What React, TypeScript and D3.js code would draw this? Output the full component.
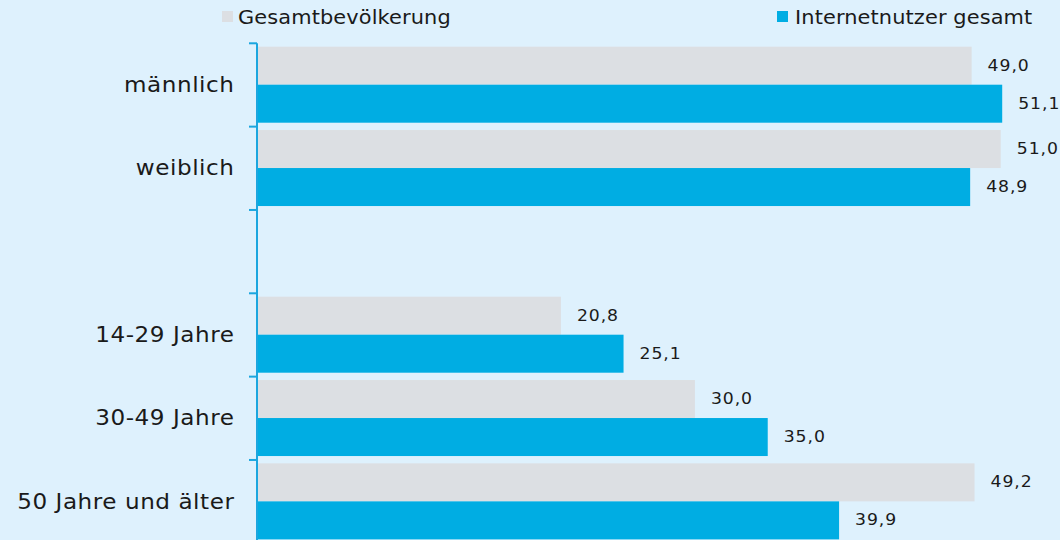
import React from "react";
import * as d3 from "d3";

const categories = ["männlich", "weiblich", "", "14-29 Jahre", "30-49 Jahre", "50 Jahre und älter"];
const gesamtbevoelkerung = [49.0, 51.0, null, 20.8, 30.0, 49.2];
const internetnutzer = [51.1, 48.9, null, 25.1, 35.0, 39.9];
const seriesNames = ["Gesamtbevölkerung", "Internetnutzer gesamt"];
const seriesColors = ["#dcdfe3", "#00ade3"];

const W = 1060;
const H = 540;
const FONT = "'DejaVu Sans', Verdana, sans-serif";

function WideText(props: { x: number; y: number; sx: number; size: number; ls: number; anchor?: string; children: React.ReactNode }) {
  const { x, y, sx, size, ls, anchor, children } = props;
  return (
    <text
      transform={`translate(${x},${y}) scale(${sx},1)`}
      textAnchor={anchor || "start"}
      dominantBaseline="central"
      fontFamily={FONT}
      fontSize={size}
      letterSpacing={ls}
      fill="#1a1a1a"
    >
      {children}
    </text>
  );
}

export default function App() {
  const y = d3.scaleBand<string>().domain(categories.map((c, i) => String(i))).range([43.3, 543.3]).paddingInner(0);
  const x = d3.scaleLinear().domain([0, 55]).range([258, 1059]);
  const bw = y.bandwidth();
  const barH = 38;
  const fmt = (v: number) => d3.format(".1f")(v).replace(".", ",");
  const series = [gesamtbevoelkerung, internetnutzer];

  return (
    <svg width={W} height={H} style={{ position: "absolute", left: 0, top: 0, display: "block" }}>
      <rect x={0} y={0} width={W} height={H} fill="#def1fd" />
      {/* legend */}
      <rect x={222} y={11} width={11} height={11} fill={seriesColors[0]} />
      <WideText x={238} y={17.5} sx={1.1} size={19} ls={0.1}>{seriesNames[0]}</WideText>
      <rect x={777} y={11} width={11} height={11} fill={seriesColors[1]} />
      <WideText x={795} y={17.5} sx={1.1} size={19} ls={0.1}>{seriesNames[1]}</WideText>

      {categories.map((c, i) => {
        const y0 = y(String(i))!;
        const cy = y0 + bw / 2;
        return (
          <g key={i}>
            {series.map((s, si) => {
              const v = s[i];
              if (v == null) return null;
              const top = y0 + 3.4 + si * barH;
              return (
                <g key={si}>
                  <rect x={x(0)} y={top} width={x(v) - x(0)} height={barH} fill={seriesColors[si]} />
                  <WideText x={x(v) + 16} y={top + barH / 2} sx={1.15} size={15} ls={0.8}>{fmt(v)}</WideText>
                </g>
              );
            })}
            {c && (
              <WideText x={234.5} y={cy} sx={1.1} size={21} ls={0.5} anchor="end">{c}</WideText>
            )}
          </g>
        );
      })}

      {/* axis */}
      <line x1={257} x2={257} y1={y("0")!} y2={H} stroke="#1ba6df" strokeWidth={2} />
      {categories.map((c, i) => (
        <line key={i} x1={249} x2={257} y1={y(String(i))!} y2={y(String(i))!} stroke="#1ba6df" strokeWidth={2} />
      ))}
    </svg>
  );
}
